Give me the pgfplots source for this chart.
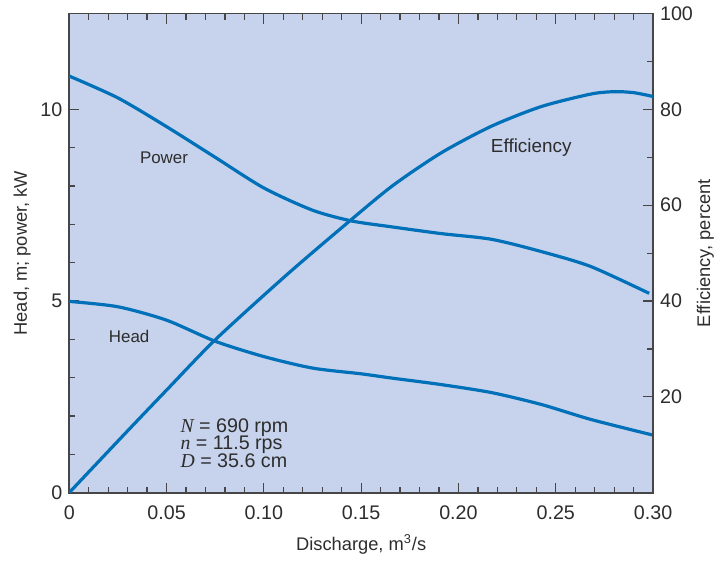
\documentclass[border=0pt]{standalone}
\usepackage{pgfplots}
\pgfplotsset{compat=1.18}
\usepackage{fontspec}
\setmainfont{Liberation Sans}
\newfontfamily\serifit{Liberation Serif}
\definecolor{bgblue}{RGB}{199,211,236}
\definecolor{lineblue}{RGB}{0,112,184}
\definecolor{axgray}{RGB}{70,70,70}
\definecolor{txtgray}{RGB}{45,45,45}
\begin{document}
\begin{tikzpicture}
\pgfplotsset{
  every axis/.append style={
    font=\fontsize{8.5}{10}\selectfont,
    /pgf/number format/assume math mode=true,
    tick align=inside,
    major tick length=5bp,
    minor tick length=3bp,
    every tick/.style={axgray, line width=0.6bp},
    axis line style={axgray, line width=0.9bp},
    tick label style={text=txtgray, font=\fontsize{9.9}{11}\selectfont},
    label style={text=txtgray, font=\fontsize{9.2}{11}\selectfont},
  }
}
\begin{axis}[
  scale only axis,
  width=292.5bp, height=240bp,
  xmin=0, xmax=0.30, ymin=0, ymax=12.5,
  xtick={0,0.05,0.10,0.15,0.20,0.25,0.30},
  xticklabels={0,0.05,0.10,0.15,0.20,0.25,0.30},
  minor x tick num=4,
  ytick={0,5,10},
  minor y tick num=4,
  ytick pos=left,
  xtick pos=both,
  xticklabel style={yshift=-3bp},
  axis background/.style={fill=bgblue},
  xlabel={Discharge, m\textsuperscript{3}/s},
  ylabel={Head, m; power, kW},
  xlabel style={yshift=-0.5bp},
  ylabel style={yshift=-2bp},
  clip=false,
]
\addplot[lineblue, line width=1.6bp, smooth, tension=0.45] coordinates {
 (0,10.87) (0.025,10.3) (0.05,9.55) (0.075,8.75) (0.1,7.95)
 (0.125,7.37) (0.145,7.09) (0.165,6.94) (0.191,6.76) (0.217,6.61)
 (0.2426,6.29) (0.268,5.90) (0.298,5.20)
};
\addplot[lineblue, line width=1.6bp, smooth, tension=0.45] coordinates {
 (0,4.99) (0.025,4.85) (0.05,4.50) (0.075,3.95) (0.1,3.55)
 (0.125,3.25) (0.15,3.10) (0.1656,2.99) (0.191,2.82) (0.217,2.61)
 (0.2426,2.30) (0.268,1.91) (0.30,1.50)
};
\node[text=txtgray] at (axis cs:0.0487,8.75) {Power};
\node[text=txtgray] at (axis cs:0.0308,4.08) {Head};
\node[text=txtgray, font=\fontsize{9.5}{11}\selectfont] at (axis cs:0.2374,9.01) {Efficiency};
\node[text=txtgray, anchor=north west, align=left, inner sep=0pt, font=\fontsize{9.9}{11}\selectfont] at (axis cs:0.057,1.95)
 {{\serifit\itshape N} = 690 rpm\\[-2bp]{\serifit\itshape n} = 11.5 rps\\[-2bp]{\serifit\itshape D} = 35.6 cm};
\end{axis}
\begin{axis}[
  scale only axis,
  width=292.5bp, height=240bp,
  xmin=0, xmax=0.30, ymin=0, ymax=100,
  axis x line=none,
  axis y line*=right,
  ytick={20,40,60,80,100},
  minor y tick num=1,
  ylabel={Efficiency, percent},
  ylabel style={yshift=1.5bp, inner sep=0pt},
]
\addplot[lineblue, line width=1.6bp, smooth, tension=0.45] coordinates {
 (0,0) (0.03,12.9) (0.05,21.4) (0.075,31.9) (0.111,45.2) (0.14,55.3)
 (0.1656,63.9) (0.191,70.9) (0.217,76.5) (0.2426,80.6) (0.268,83.2)
 (0.28,83.7) (0.29,83.5) (0.30,82.7)
};
\end{axis}
\path ([xshift=-3.5bp]current bounding box.west);
\end{tikzpicture}
\end{document}
